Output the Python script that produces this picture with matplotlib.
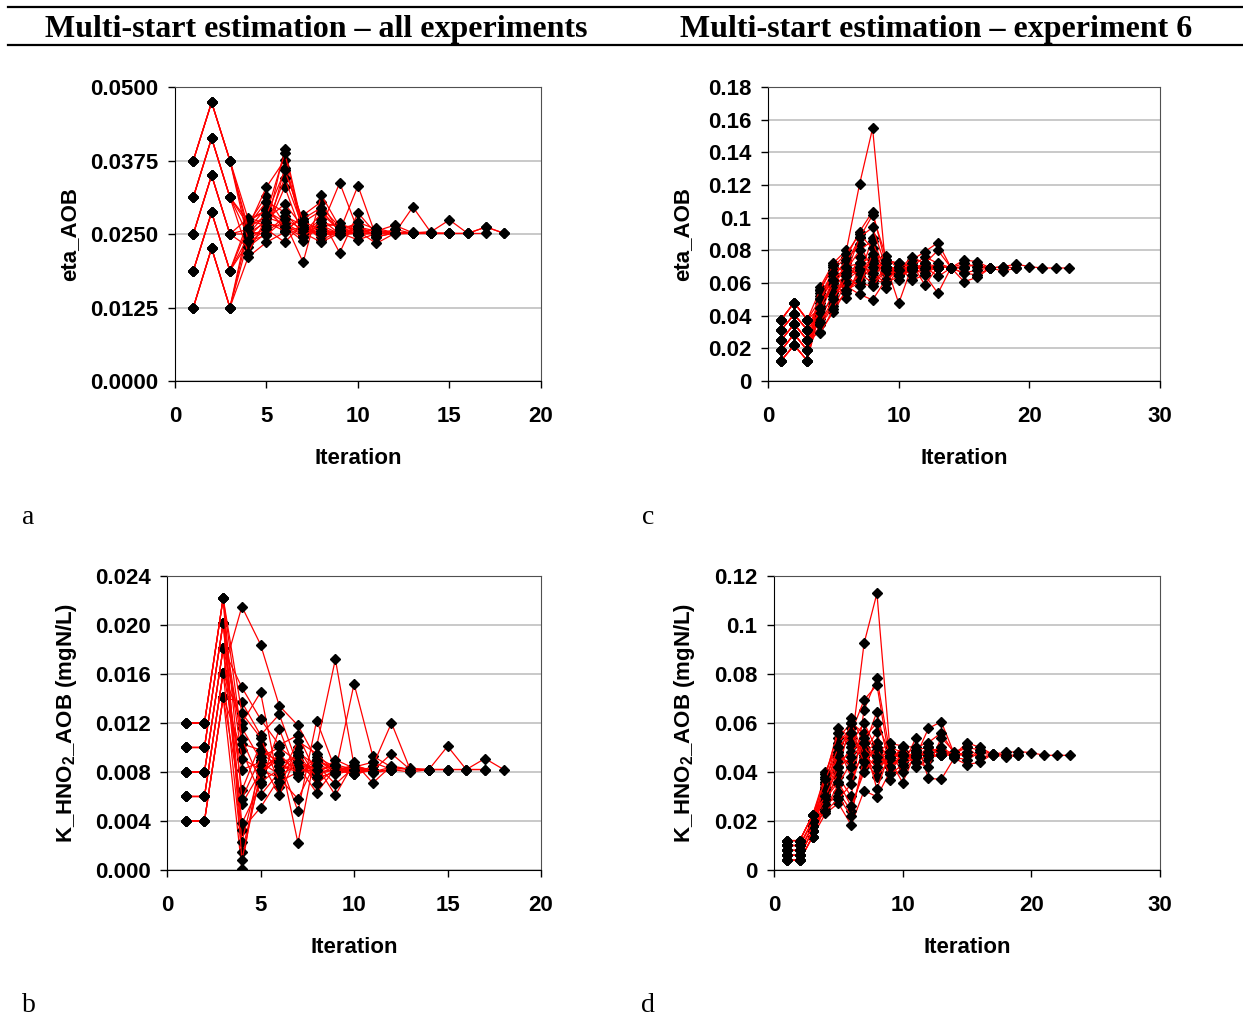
import matplotlib
matplotlib.use('Agg')
import matplotlib.pyplot as plt
from matplotlib.lines import Line2D
from matplotlib.ticker import MultipleLocator, FuncFormatter

plt.rcParams['font.family'] = 'Liberation Sans'
plt.rcParams['font.weight'] = 'bold'
plt.rcParams['mathtext.fontset'] = 'custom'
plt.rcParams['mathtext.rm'] = 'Liberation Sans:bold'
plt.rcParams['mathtext.bf'] = 'Liberation Sans:bold'

# ---- eta_AOB, all experiments (iterations 1-3 shared by each start group) ----
eta_all_it1 = [0.0125, 0.01875, 0.025, 0.03125, 0.0375]
eta_all_it2 = [0.0226, 0.0287, 0.0350, 0.0413, 0.0474]
eta_all_it3 = [0.0125, 0.01875, 0.025, 0.03125, 0.0375]
eta_all_tails = [
    [0.0240, 0.0262, 0.0395, 0.0258, 0.0250, 0.0252, 0.0251],
    [0.0268, 0.0315, 0.0266, 0.0248, 0.0262, 0.0337, 0.0256, 0.0251],
    [0.0255, 0.0248, 0.0362, 0.0270, 0.0290, 0.0255, 0.0332, 0.0245, 0.0252, 0.0251],
    [0.0211, 0.0236, 0.0253, 0.0282, 0.0305, 0.0250, 0.0262, 0.0255, 0.0251],
    [0.0262, 0.0330, 0.0376, 0.0250, 0.0276, 0.0218, 0.0286, 0.0250, 0.0251, 0.0296, 0.0252, 0.0251],
    [0.0245, 0.0275, 0.0301, 0.0262, 0.0245, 0.0258, 0.0250, 0.0252, 0.0251],
    [0.0272, 0.0290, 0.0270, 0.0202, 0.0316, 0.0262, 0.0248, 0.0255, 0.0265, 0.0252, 0.0254, 0.0274, 0.0251, 0.0262, 0.0251],
    [0.0235, 0.0258, 0.0330, 0.0245, 0.0258, 0.0252, 0.0240, 0.0251],
    [0.0250, 0.0285, 0.0388, 0.0255, 0.0262, 0.0268, 0.0255, 0.0234, 0.0251, 0.0253, 0.0251],
    [0.0277, 0.0268, 0.0262, 0.0238, 0.0275, 0.0250, 0.0252, 0.0251],
    [0.0228, 0.0252, 0.0280, 0.0265, 0.0250, 0.0255, 0.0270, 0.0258, 0.0250, 0.0251, 0.0251, 0.0251, 0.0251, 0.0251],
    [0.0258, 0.0295, 0.0258, 0.0276, 0.0295, 0.0262, 0.0250, 0.0251],
    [0.0265, 0.0305, 0.0287, 0.0250, 0.0285, 0.0256, 0.0262, 0.0248, 0.0258, 0.0251, 0.0251],
    [0.0247, 0.0258, 0.0236, 0.0268, 0.0240, 0.0255, 0.0250, 0.0251],
    [0.0218, 0.0278, 0.0268, 0.0252, 0.0236, 0.0252, 0.0258, 0.0255, 0.0251],
    [0.0272, 0.0265, 0.0345, 0.0260, 0.0265, 0.0250, 0.0251],
    [0.0275, 0.0290, 0.0262, 0.0245, 0.0270, 0.0262, 0.0264, 0.0245, 0.0252, 0.0251, 0.0251, 0.0251],
    [0.0252, 0.0270, 0.0255, 0.0262, 0.0250, 0.0248, 0.0252, 0.0251],
    [0.0238, 0.0248, 0.0275, 0.0258, 0.0252, 0.0255, 0.0250, 0.0260, 0.0252, 0.0251, 0.0251, 0.0251, 0.0251, 0.0262, 0.0251],
    [0.0260, 0.0282, 0.0358, 0.0272, 0.0255, 0.0252, 0.0251],
]

# ---- eta_AOB, experiment 6 ----
eta_e6_it1 = [0.0125, 0.01875, 0.025, 0.03125, 0.0375]
eta_e6_it2 = [0.0220, 0.0288, 0.0349, 0.0408, 0.0480]
eta_e6_it3 = [0.0125, 0.01875, 0.025, 0.03125, 0.0375]
eta_e6_tails = [
    [0.0578, 0.0722, 0.0802, 0.1204, 0.1547, 0.0700, 0.0690, 0.0692],
    [0.0520, 0.0680, 0.0760, 0.0914, 0.1037, 0.0720, 0.0476, 0.0700, 0.0710, 0.0692],
    [0.0480, 0.0650, 0.0720, 0.0876, 0.1016, 0.0767, 0.0680, 0.0740, 0.0792, 0.0847, 0.0694, 0.0692],
    [0.0440, 0.0600, 0.0700, 0.0640, 0.0878, 0.0660, 0.0700, 0.0690, 0.0700, 0.0692],
    [0.0560, 0.0700, 0.0780, 0.0900, 0.0812, 0.0568, 0.0690, 0.0720, 0.0588, 0.0700, 0.0694, 0.0741, 0.0731, 0.0692, 0.0700, 0.0716, 0.0700, 0.0692, 0.0692, 0.0692],
    [0.0500, 0.0560, 0.0620, 0.0720, 0.0760, 0.0700, 0.0660, 0.0680, 0.0700, 0.0692],
    [0.0400, 0.0520, 0.0580, 0.0531, 0.0496, 0.0620, 0.0700, 0.0618, 0.0649, 0.0537, 0.0694, 0.0608, 0.0635, 0.0692, 0.0673, 0.0692],
    [0.0350, 0.0480, 0.0680, 0.0700, 0.0720, 0.0680, 0.0690, 0.0692],
    [0.0540, 0.0640, 0.0740, 0.0840, 0.0680, 0.0740, 0.0720, 0.0700, 0.0760, 0.0720, 0.0694, 0.0700, 0.0710, 0.0692, 0.0700, 0.0692],
    [0.0460, 0.0580, 0.0650, 0.0680, 0.0640, 0.0720, 0.0660, 0.0700, 0.0680, 0.0692],
    [0.0380, 0.0540, 0.0600, 0.0760, 0.0620, 0.0600, 0.0700, 0.0650, 0.0700, 0.0640, 0.0692, 0.0660, 0.0650, 0.0692],
    [0.0300, 0.0424, 0.0560, 0.0620, 0.0700, 0.0680, 0.0700, 0.0692],
    [0.0500, 0.0620, 0.0508, 0.0700, 0.0740, 0.0660, 0.0680, 0.0710, 0.0690, 0.0692],
    [0.0420, 0.0600, 0.0680, 0.0800, 0.0860, 0.0620, 0.0680, 0.0760, 0.0720, 0.0800, 0.0694, 0.0720, 0.0700, 0.0692],
    [0.0340, 0.0460, 0.0540, 0.0660, 0.0600, 0.0690, 0.0660, 0.0692],
    [0.0292, 0.0440, 0.0620, 0.0680, 0.0720, 0.0700, 0.0620, 0.0692, 0.0700, 0.0692],
    [0.0560, 0.0710, 0.0660, 0.0880, 0.0940, 0.0700, 0.0650, 0.0680, 0.0720, 0.0700, 0.0694, 0.0692],
    [0.0500, 0.0660, 0.0560, 0.0600, 0.0580, 0.0680, 0.0680, 0.0692],
    [0.0450, 0.0620, 0.0700, 0.0720, 0.0660, 0.0600, 0.0640, 0.0680, 0.0660, 0.0700, 0.0694, 0.0660, 0.0680, 0.0692],
    [0.0360, 0.0500, 0.0640, 0.0580, 0.0780, 0.0740, 0.0720, 0.0700, 0.0692],
]

# ---- K_HNO2_AOB, all experiments ----
khno2_all_it1 = [0.004, 0.006, 0.008, 0.010, 0.012]
khno2_all_it2 = [0.004, 0.006, 0.008, 0.010, 0.012]
khno2_all_it3 = [0.0141, 0.0161, 0.0181, 0.0202, 0.0222]
khno2_all_tails = [
    [0.0001, 0.0095, 0.0085, 0.0082, 0.0080, 0.0082],
    [0.0098, 0.0061, 0.0080, 0.0090, 0.0078, 0.0082, 0.0082],
    [0.0137, 0.0110, 0.0127, 0.0085, 0.0075, 0.0080, 0.0084, 0.0082],
    [0.0054, 0.0080, 0.0090, 0.0048, 0.0122, 0.0082, 0.0085, 0.0079, 0.0082],
    [0.0215, 0.0184, 0.0134, 0.0118, 0.0090, 0.0082, 0.0079, 0.0082],
    [0.0015, 0.0076, 0.0095, 0.0022, 0.0101, 0.0172, 0.0085, 0.0080, 0.0082],
    [0.0120, 0.0145, 0.0068, 0.0100, 0.0075, 0.0080, 0.0152, 0.0093, 0.0084, 0.0082, 0.0082],
    [0.0082, 0.0088, 0.0078, 0.0085, 0.0063, 0.0083, 0.0082],
    [0.0149, 0.0123, 0.0102, 0.0110, 0.0078, 0.0090, 0.0083, 0.0080, 0.0082, 0.0083, 0.0082, 0.0101, 0.0082, 0.0091, 0.0082],
    [0.0033, 0.0051, 0.0075, 0.0058, 0.0090, 0.0082, 0.0078, 0.0082],
    [0.0116, 0.0090, 0.0061, 0.0096, 0.0085, 0.0061, 0.0088, 0.0071, 0.0085, 0.0082, 0.0082],
    [0.0065, 0.0103, 0.0085, 0.0080, 0.0092, 0.0084, 0.0080, 0.0082],
    [0.0023, 0.0085, 0.0090, 0.0083, 0.0080, 0.0086, 0.0078, 0.0085, 0.0120, 0.0082],
    [0.0091, 0.0082, 0.0075, 0.0105, 0.0095, 0.0080, 0.0085, 0.0081, 0.0095, 0.0082, 0.0082, 0.0082],
    [0.0038, 0.0070, 0.0115, 0.0076, 0.0088, 0.0078, 0.0082, 0.0082],
    [0.0103, 0.0098, 0.0088, 0.0092, 0.0070, 0.0083, 0.0080, 0.0082],
    [0.0128, 0.0108, 0.0072, 0.0080, 0.0086, 0.0070, 0.0084, 0.0088, 0.0082, 0.0080, 0.0082, 0.0082, 0.0082, 0.0082],
    [0.0058, 0.0092, 0.0100, 0.0088, 0.0082, 0.0085, 0.0078, 0.0082],
    [0.0008, 0.0080, 0.0095, 0.0078, 0.0090, 0.0080, 0.0086, 0.0080, 0.0084, 0.0082, 0.0082, 0.0082, 0.0082, 0.0082],
    [0.0107, 0.0072, 0.0082, 0.0094, 0.0076, 0.0086, 0.0082],
]

# ---- K_HNO2_AOB, experiment 6 ----
khno2_e6_it1 = [0.004, 0.006, 0.008, 0.010, 0.012]
khno2_e6_it2 = [0.004, 0.006, 0.008, 0.010, 0.012]
khno2_e6_it3 = [0.0136, 0.0160, 0.0180, 0.0200, 0.0224]
khno2_e6_tails = [
    [0.0231, 0.0272, 0.0184, 0.0324, 0.0299, 0.0400, 0.0470, 0.0468],
    [0.0260, 0.0320, 0.0240, 0.0422, 0.0517, 0.0450, 0.0356, 0.0480, 0.0470, 0.0468],
    [0.0290, 0.0380, 0.0300, 0.0653, 0.0782, 0.0480, 0.0460, 0.0470, 0.0468],
    [0.0300, 0.0420, 0.0500, 0.0925, 0.1129, 0.0500, 0.0480, 0.0460, 0.0578, 0.0605, 0.0475, 0.0468],
    [0.0320, 0.0460, 0.0560, 0.0694, 0.0755, 0.0440, 0.0500, 0.0420, 0.0450, 0.0480, 0.0470, 0.0520, 0.0500, 0.0473, 0.0480, 0.0483, 0.0479, 0.0468, 0.0468, 0.0468],
    [0.0250, 0.0350, 0.0440, 0.0500, 0.0646, 0.0420, 0.0460, 0.0480, 0.0470, 0.0468],
    [0.0340, 0.0500, 0.0380, 0.0480, 0.0565, 0.0367, 0.0420, 0.0537, 0.0374, 0.0370, 0.0456, 0.0430, 0.0440, 0.0473, 0.0460, 0.0468],
    [0.0280, 0.0400, 0.0619, 0.0520, 0.0440, 0.0480, 0.0460, 0.0468],
    [0.0360, 0.0540, 0.0600, 0.0558, 0.0480, 0.0517, 0.0506, 0.0500, 0.0520, 0.0560, 0.0475, 0.0500, 0.0490, 0.0473, 0.0470, 0.0468],
    [0.0270, 0.0300, 0.0220, 0.0460, 0.0400, 0.0470, 0.0440, 0.0470, 0.0468],
    [0.0380, 0.0578, 0.0540, 0.0480, 0.0517, 0.0460, 0.0480, 0.0490, 0.0500, 0.0480, 0.0460, 0.0450, 0.0480, 0.0468],
    [0.0240, 0.0290, 0.0350, 0.0500, 0.0440, 0.0460, 0.0470, 0.0468],
    [0.0310, 0.0440, 0.0480, 0.0540, 0.0600, 0.0480, 0.0400, 0.0460, 0.0500, 0.0470, 0.0468],
    [0.0401, 0.0520, 0.0580, 0.0450, 0.0380, 0.0450, 0.0500, 0.0440, 0.0420, 0.0540, 0.0483, 0.0500, 0.0460, 0.0468],
    [0.0290, 0.0360, 0.0260, 0.0400, 0.0470, 0.0420, 0.0468],
    [0.0350, 0.0480, 0.0420, 0.0520, 0.0330, 0.0480, 0.0450, 0.0480, 0.0460, 0.0468],
    [0.0390, 0.0560, 0.0520, 0.0600, 0.0490, 0.0420, 0.0470, 0.0440, 0.0470, 0.0490, 0.0470, 0.0468],
    [0.0330, 0.0470, 0.0600, 0.0470, 0.0420, 0.0460, 0.0468],
    [0.0370, 0.0500, 0.0560, 0.0440, 0.0500, 0.0390, 0.0430, 0.0460, 0.0480, 0.0500, 0.0470, 0.0480, 0.0460, 0.0468],
    [0.0300, 0.0420, 0.0460, 0.0520, 0.0460, 0.0480, 0.0470, 0.0468],
]

RUNS_PER_START = 4


# Join the shared first three iterations of each start with its tail
def build_runs(it1, it2, it3, tails):
    runs = []
    for i, tail in enumerate(tails):
        g = i // RUNS_PER_START
        runs.append([it1[g], it2[g], it3[g]] + list(tail))
    return runs


def excel_general(v, pos):
    s = ('%.2f' % v).rstrip('0').rstrip('.')
    return s


def plot_panel(fig, rect, runs, xmax, xstep, ymax, ystep, yfmt, ylabel, ylabel_x):
    ax = fig.add_axes(rect)
    for run in runs:
        its = list(range(1, len(run) + 1))
        ax.plot(its, run, color='red', lw=0.9, marker='D', ms=4.8,
                mfc='black', mec='black', zorder=3)
    ax.set_xlim(0, xmax)
    ax.set_ylim(0, ymax)
    ax.xaxis.set_major_locator(MultipleLocator(xstep))
    ax.yaxis.set_major_locator(MultipleLocator(ystep))
    ax.yaxis.set_major_formatter(yfmt)
    ax.grid(axis='y', color='#c0c0c0', lw=1.2, zorder=0)
    ax.set_axisbelow(True)
    for side in ['top', 'right']:
        ax.spines[side].set_color('#505050')
    for side in ['left', 'bottom']:
        ax.spines[side].set_color('black')
    ax.tick_params(axis='both', direction='out', length=5, width=1,
                   labelsize=16, top=False, right=False)
    ax.tick_params(axis='x', pad=13)
    ax.tick_params(axis='y', pad=7)
    ax.set_xlabel('Iteration', fontsize=16, fontweight='bold', labelpad=15)
    ax.set_ylabel(ylabel, fontsize=16, fontweight='bold')
    ax.yaxis.set_label_coords(ylabel_x, 0.5)
    return ax


fig = plt.figure(figsize=(12.43, 10.21), dpi=100)

# Axes rectangles in figure fractions
rect_a = [0.1408, 0.6268, 0.2944, 0.2880]
rect_c = [0.6179, 0.6268, 0.3154, 0.2880]
rect_b = [0.1344, 0.1479, 0.3009, 0.2880]
rect_d = [0.6227, 0.1479, 0.3105, 0.2880]

k_label = r'K_HNO$_\mathbf{2}$_AOB (mgN/L)'

plot_panel(fig, rect_a, build_runs(eta_all_it1, eta_all_it2, eta_all_it3, eta_all_tails),
           20, 5, 0.05, 0.0125, FuncFormatter(lambda v, p: '%.4f' % v), 'eta_AOB', -0.26)
plot_panel(fig, rect_c, build_runs(eta_e6_it1, eta_e6_it2, eta_e6_it3, eta_e6_tails),
           30, 10, 0.18, 0.02, FuncFormatter(excel_general), 'eta_AOB', -0.19)
plot_panel(fig, rect_b, build_runs(khno2_all_it1, khno2_all_it2, khno2_all_it3, khno2_all_tails),
           20, 5, 0.024, 0.004, FuncFormatter(lambda v, p: '%.3f' % v), k_label, -0.235)
plot_panel(fig, rect_d, build_runs(khno2_e6_it1, khno2_e6_it2, khno2_e6_it3, khno2_e6_tails),
           30, 10, 0.12, 0.02, FuncFormatter(excel_general), k_label, -0.2)

# Column headings between two rules
fig.add_artist(Line2D([0.0064, 1.0], [0.9931, 0.9931], color='black', lw=1.6))
fig.add_artist(Line2D([0.0064, 1.0], [0.9559, 0.9559], color='black', lw=1.6))
fig.text(0.2542, 0.9712, 'Multi-start estimation \u2013 all experiments',
         family='Liberation Serif', fontweight='bold', fontsize=23, ha='center', va='center')
fig.text(0.753, 0.9712, 'Multi-start estimation \u2013 experiment 6',
         family='Liberation Serif', fontweight='bold', fontsize=23, ha='center', va='center')

# Panel letters
for letter, x, y in [('a', 0.0230, 0.4927), ('c', 0.5213, 0.4927),
                     ('b', 0.0230, 0.0147), ('d', 0.5213, 0.0147)]:
    fig.text(x, y, letter, family='Liberation Serif', fontweight='normal',
             fontsize=20, ha='center', va='center')

fig.savefig('out.png', dpi=100)
plt.close(fig)
